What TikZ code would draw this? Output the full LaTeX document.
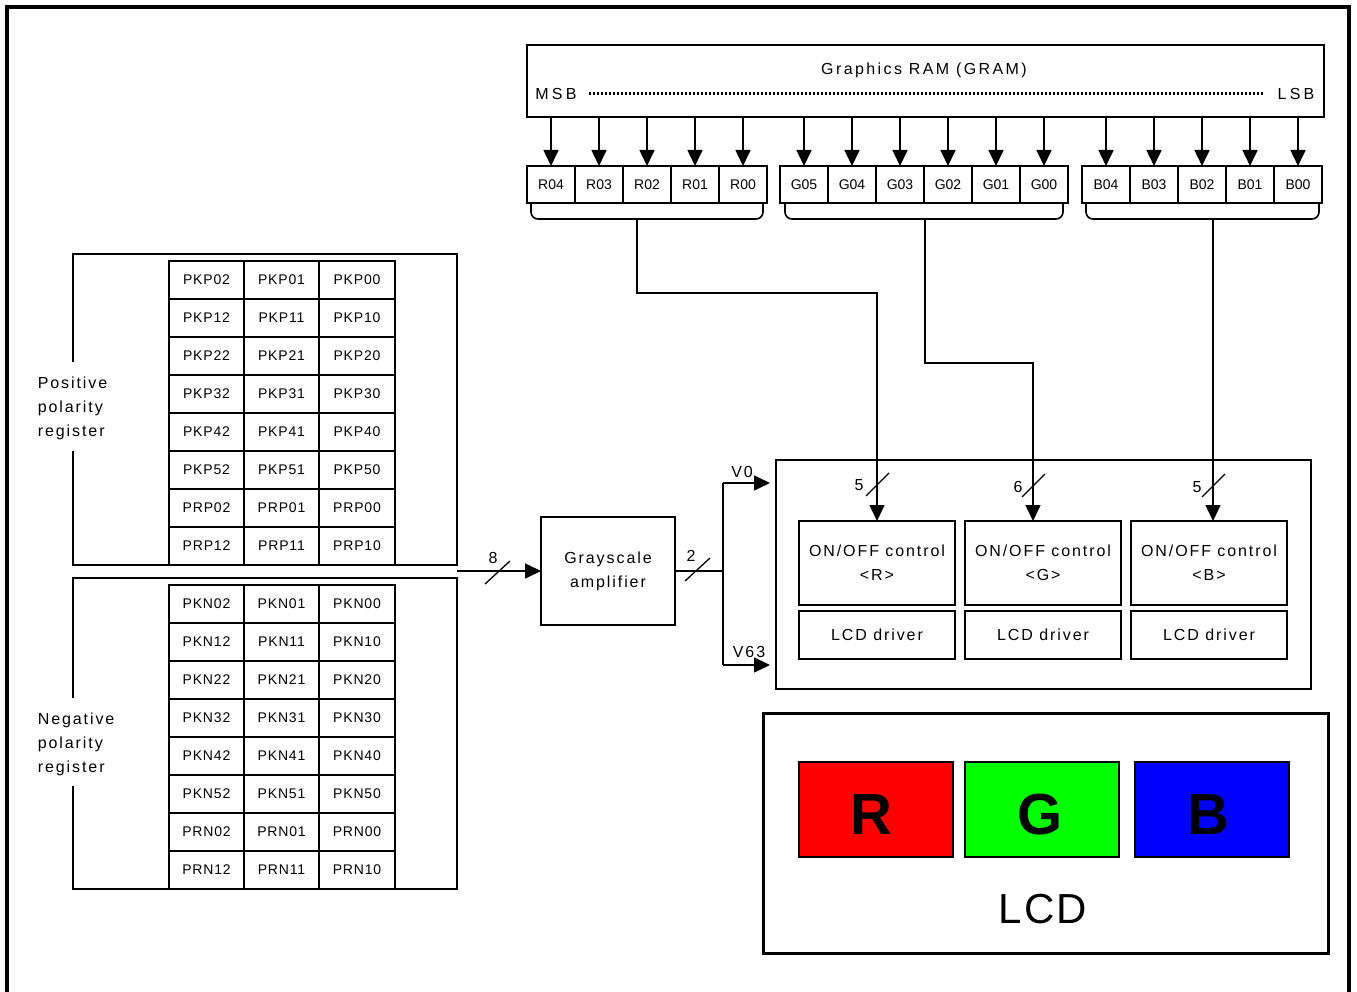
\documentclass[tikz,border=0pt]{standalone}
\usepackage{fontspec}
\setmainfont{Liberation Sans}
\newfontfamily\lblf[LetterSpace=12]{Liberation Sans}
\newfontfamily\titlef[LetterSpace=15]{Liberation Sans}
\newfontfamily\cellf[LetterSpace=6]{Liberation Sans}
\newfontfamily\widef[LetterSpace=20]{Liberation Sans}
\newfontfamily\bigf[LetterSpace=5]{Liberation Sans}
\usetikzlibrary{arrows.meta}
\begin{document}
\begin{tikzpicture}[x=1pt,y=-1pt,line width=1.6pt,
  box/.style={draw,line width=1.6pt,inner sep=0pt,outer sep=0pt},
  lbl/.style={font=\lblf\fontsize{16}{24}\selectfont,inner sep=0pt},
  wlbl/.style={font=\widef\fontsize{16}{20}\selectfont,inner sep=0pt},
  num/.style={font=\fontsize{16}{18}\selectfont,inner sep=0pt},
  bit/.style={box,minimum width=48pt,minimum height=37pt,font=\fontsize{14}{16}\selectfont},
  reg/.style={box,line width=1.8pt,minimum height=38pt,font=\cellf\fontsize{14}{16}\selectfont},
  ctl/.style={box,minimum width=156pt,align=center,font=\lblf\fontsize{16}{24}\selectfont},
  arr/.style={-{Triangle[length=16pt,width=15pt]}},
  slash/.style={line width=1.3pt},
  pix/.style={draw,line width=1.2pt,minimum width=154pt,minimum height=95pt,inner sep=0pt}
]
\useasboundingbox (0,0) rectangle (1357,992);
% outer border (open at bottom)
\draw[line width=3.5pt] (7,992) -- (7,7) -- (1349,7) -- (1349,992);

% GRAM
\node[box,minimum width=797pt,minimum height=72pt] (gram) at (925.5,81) {};
\node[font=\titlef\fontsize{16}{20}\selectfont,inner sep=0pt] (gtitle) at (924,70) {Graphics RAM (GRAM)};
\node[wlbl] (msb) at (556,94) {MSB};
\node[wlbl] (lsb) at (1296,94) {LSB};
\draw[line width=3pt,dash pattern=on 2pt off 2pt,shorten <=12pt,shorten >=12pt] (msb.east) -- (lsb.west);

% bit cells
\foreach \t [count=\i from 0] in {R04,R03,R02,R01,R00}{
  \node[bit] (\t) at ({551+48*\i},184.5) {\t};
  \draw[arr] (gram.south -| \t) -- (\t.north);
}
\foreach \t [count=\i from 0] in {G05,G04,G03,G02,G01,G00}{
  \node[bit] (\t) at ({804+48*\i},184.5) {\t};
  \draw[arr] (gram.south -| \t) -- (\t.north);
}
\foreach \t [count=\i from 0] in {B04,B03,B02,B01,B00}{
  \node[bit] (\t) at ({1106+48*\i},184.5) {\t};
  \draw[arr] (gram.south -| \t) -- (\t.north);
}
% braces
\draw[rounded corners=7pt] (531,203) -- (531,219) -- (763,219) -- (763,203);
\draw[rounded corners=7pt] (785,203) -- (785,219) -- (1063,219) -- (1063,203);
\draw[rounded corners=7pt] (1086,203) -- (1086,219) -- (1319,219) -- (1319,203);
\coordinate (rb) at (637,219);
\coordinate (gb) at (925,219);
\coordinate (bb) at (1213,219);

% positive register
\draw[line width=1.8pt] (73,362) -- (73,254) -- (457,254) -- (457,565) -- (73,565) -- (73,451);
\node[lbl,anchor=west,align=left] (poslbl) at (37,408) {Positive\\polarity\\register};
\foreach \r [count=\i from 0] in {PKP0,PKP1,PKP2,PKP3,PKP4,PKP5,PRP0,PRP1}{
  \node[reg,minimum width=75pt] (\r2) at (206.5,{280+38*\i}) {\r2};
  \node[reg,minimum width=75pt] (\r1) at (281.5,{280+38*\i}) {\r1};
  \node[reg,minimum width=76pt] (\r0) at (357,{280+38*\i}) {\r0};
}
% negative register
\draw[line width=1.8pt] (73,698) -- (73,578) -- (457,578) -- (457,889) -- (73,889) -- (73,786);
\node[lbl,anchor=west,align=left] (neglbl) at (37,744) {Negative\\polarity\\register};
\foreach \r [count=\i from 0] in {PKN0,PKN1,PKN2,PKN3,PKN4,PKN5,PRN0,PRN1}{
  \node[reg,minimum width=75pt] (\r2) at (206.5,{604+38*\i}) {\r2};
  \node[reg,minimum width=75pt] (\r1) at (281.5,{604+38*\i}) {\r1};
  \node[reg,minimum width=76pt] (\r0) at (357,{604+38*\i}) {\r0};
}

% grayscale amplifier
\node[box,minimum width=134pt,minimum height=108pt,align=center,font=\lblf\fontsize{16}{24}\selectfont] (gs) at (608,571) {Grayscale\\amplifier};
\coordinate (regout) at (457,571);
\draw[arr] (regout) -- (gs.west);
\draw[slash] (485,584) -- (510,561);
\node[num] (n8) at (493,558) {8};

\coordinate (jn) at (723,571);
\coordinate (v0s) at (723,483);
\coordinate (v63s) at (723,665);
\coordinate (v0e) at (770,483);
\coordinate (v63e) at (770,665);
\draw (gs.east) -- (jn);
\draw (v0s) -- (v63s);
\draw[arr] (v0s) -- (v0e);
\draw[arr] (v63s) -- (v63e);
\draw[slash] (685,581) -- (710,558);
\node[num] (n2) at (691,556) {2};
\node[lbl] (v0l) at (742,472) {V0};
\node[lbl] (v63l) at (749,652) {V63};

% driver block
\node[box,minimum width=535pt,minimum height=229pt] (drv) at (1043.5,574.5) {};
\node[ctl,minimum height=84pt] (onR) at (877,563) {ON/OFF control\\{<}R{>}};
\node[ctl,minimum height=84pt] (onG) at (1043,563) {ON/OFF control\\{<}G{>}};
\node[ctl,minimum height=84pt] (onB) at (1209,563) {ON/OFF control\\{<}B{>}};
\node[ctl,minimum height=48pt] (drR) at (877,635) {LCD driver};
\node[ctl,minimum height=48pt] (drG) at (1043,635) {LCD driver};
\node[ctl,minimum height=48pt] (drB) at (1209,635) {LCD driver};

% buses from GRAM groups
\coordinate (rbend) at (877,293);
\coordinate (gbend) at (1033,363);
\coordinate (gin) at (1033,521);
\coordinate (bin) at (1213,521);
\draw[arr] (rb) |- (rbend) -- (onR.north);
\draw[arr] (gb) |- (gbend) -- (gin);
\draw[arr] (bb) -- (bin);
\draw[slash] (866,496) -- (889,473);
\node[num] (n5a) at (859,485) {5};
\draw[slash] (1022,497) -- (1045,474);
\node[num] (n6) at (1018,487) {6};
\draw[slash] (1202,497) -- (1225,474);
\node[num] (n5b) at (1197,487) {5};

% LCD panel
\node[draw,line width=3pt,minimum width=565pt,minimum height=240pt,inner sep=0pt] (lcd) at (1045.5,833) {};
\node[pix,fill={rgb,255:red,255;green,0;blue,0}] (pr) at (876,809.5) {};
\node[pix,fill={rgb,255:red,0;green,255;blue,0}] (pg) at (1042,809.5) {};
\node[pix,fill={rgb,255:red,0;green,0;blue,255}] (pb) at (1212,809.5) {};
\node[font=\bfseries\fontsize{58}{60}\selectfont,inner sep=0pt] (tr) at (871,815) {R};
\node[font=\bfseries\fontsize{58}{60}\selectfont,inner sep=0pt] (tg) at (1040,815) {G};
\node[font=\bfseries\fontsize{58}{60}\selectfont,inner sep=0pt] (tb) at (1208,815) {B};
\node[font=\bigf\fontsize{42}{44}\selectfont,inner sep=0pt] (lcdl) at (1043,909) {LCD};
\end{tikzpicture}
\end{document}
